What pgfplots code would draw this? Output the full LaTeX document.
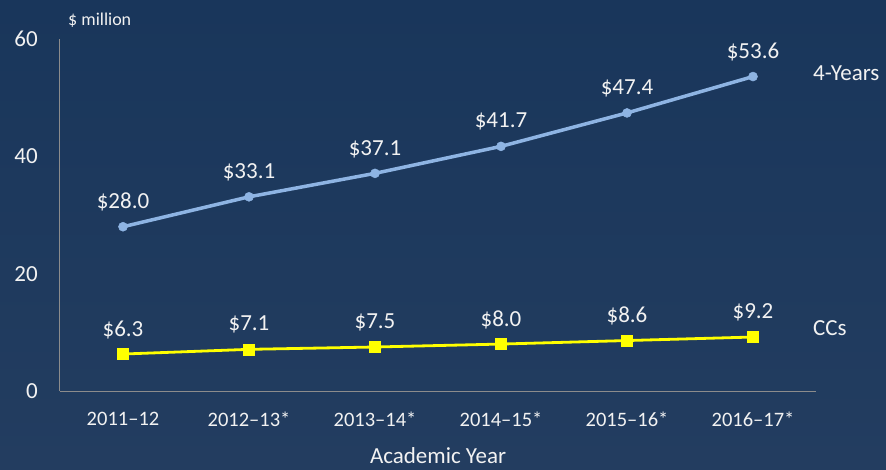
\documentclass[border=0pt]{standalone}
\usepackage{fontspec}
\setmainfont{Carlito}
\usepackage{pgfplots}
\pgfplotsset{compat=1.18}
\definecolor{bgtop}{RGB}{25,54,91}
\definecolor{bgbot}{RGB}{35,61,96}
\definecolor{txt}{RGB}{242,242,242}
\definecolor{fouryr}{RGB}{142,180,227}
\definecolor{ccy}{RGB}{255,255,0}
\definecolor{axgray}{RGB}{140,140,140}
\newcommand\fa{\fontsize{23}{27}\selectfont}
\newcommand\fb{\fontsize{20.5}{24}\selectfont}
\newcommand\fc{\fontsize{18}{22}\selectfont}
\begin{document}
\begin{tikzpicture}
\shade[top color=bgtop,bottom color=bgbot] (-60pt,-78pt) rectangle (826pt,391pt);
\begin{axis}[
  scale only axis, width=756pt, height=352pt,
  at={(0,0)}, anchor=south west,
  xmin=-0.5, xmax=5.5, ymin=0, ymax=60,
  axis x line*=bottom, axis y line*=left,
  axis line style={-, draw=axgray, line width=1pt},
  clip=false,
  xtick={0,1,2,3,4,5},
  xticklabels={2011--12, 2012--13*, 2013--14*, 2014--15*, 2015--16*, 2016--17*},
  ytick={0,20,40,60},
  major tick length=0pt,
  tick style={draw=none},
  /pgf/number format/assume math mode=true,
  xticklabel style={font=\fb, text=txt, anchor=center, inner sep=0pt, yshift=-28pt},
  yticklabel style={font=\fa, text=txt, anchor=east, inner sep=0pt, xshift=-22pt},
  xlabel={Academic Year},
  xlabel style={at={(axis description cs:0.5,0)}, anchor=center, inner sep=0pt, yshift=-65pt, font=\fa, text=txt},
  every node near coord/.style={font=\fa, text=txt, anchor=center, inner sep=0pt, yshift=24.5pt},
]
\addplot[fouryr, line width=3.5pt, mark=*, mark size=4.5pt,
  mark options={solid, fill=fouryr, draw=fouryr, line width=0.5pt},
  nodes near coords, point meta=explicit symbolic]
  coordinates {(0,28.0) [\$28.0] (1,33.1) [\$33.1] (2,37.1) [\$37.1]
               (3,41.7) [\$41.7] (4,47.4) [\$47.4] (5,53.6) [\$53.6]};
\addplot[ccy, line width=2.8pt, mark=square*, mark size=5.5pt,
  mark options={solid, fill=ccy, draw=ccy, line width=0.3pt},
  nodes near coords, point meta=explicit symbolic]
  coordinates {(0,6.3) [\$6.3] (1,7.1) [\$7.1] (2,7.5) [\$7.5]
               (3,8.0) [\$8.0] (4,8.6) [\$8.6] (5,9.2) [\$9.2]};
\node[anchor=west, inner sep=0pt, font=\fa, text=txt] at (axis cs:5.5,54.2) [xshift=-3pt] {4-Years};
\node[anchor=west, inner sep=0pt, font=\fa, text=txt] at (axis cs:5.5,10.7) [xshift=-3pt] {CCs};
\node[anchor=west, inner sep=0pt, font=\fc, text=txt] at (rel axis cs:0,1) [xshift=8pt, yshift=19pt] {\$ million};
\end{axis}
\pgfresetboundingbox
\useasboundingbox (-60pt,-78pt) rectangle (826pt,391pt);
\end{tikzpicture}
\end{document}
